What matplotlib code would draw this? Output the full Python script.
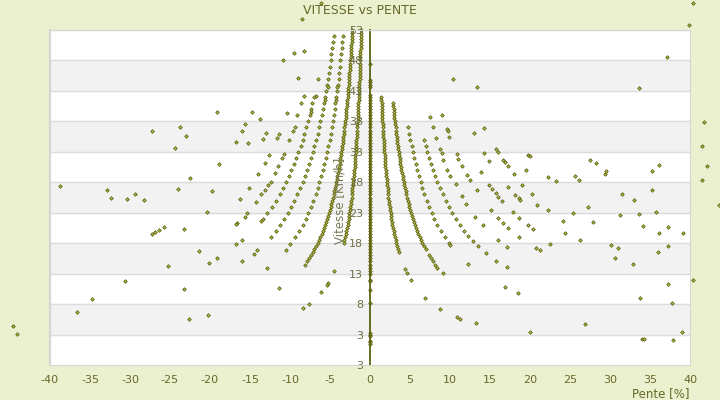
import numpy as np
import matplotlib.pyplot as plt

# (pente %, vitesse km/h)
axe_zero = [47.4, 44.8, 44.4, 44.0, 43.6, 42.3, 42.0, 41.5, 41.0, 40.5, 40.0, 39.5, 39.0, 38.5, 38.0,
            37.5, 37.0, 36.5, 36.0, 35.5, 35.0, 34.5, 34.0, 33.5, 33.0, 32.5, 32.0, 31.5, 31.0, 30.5,
            30.0, 29.5, 29.0, 28.5, 28.0, 27.5, 27.0, 26.5, 26.0, 25.5, 25.0, 24.5, 24.0, 23.5, 23.0,
            22.5, 22.0, 21.5, 21.0, 20.5, 20.0, 19.5, 19.0, 18.5, 18.0, 17.5, 17.0, 16.5, 16.0, 15.5,
            15.0, 14.5, 14.0, 13.5, 13.0, 12.0, 11.8, 10.3, 8.1, 3.3, 2.9, 2.7, 1.9, 1.7, 1.5]

gauche_k1 = [(-1.11, 53), (-1.12, 52.5), (-1.13, 52), (-1.15, 51.5), (-1.16, 51), (-1.17, 50.5), (-1.18, 50),
             (-1.19, 49.5), (-1.20, 49), (-1.22, 48.5), (-1.23, 48), (-1.24, 47.5), (-1.26, 47), (-1.27, 46.5),
             (-1.28, 46), (-1.30, 45.5), (-1.31, 45), (-1.33, 44.5), (-1.34, 44), (-1.36, 43.5), (-1.37, 43),
             (-1.39, 42.5), (-1.40, 42), (-1.42, 41.5), (-1.44, 41), (-1.46, 40.5), (-1.48, 40), (-1.49, 39.5),
             (-1.51, 39), (-1.53, 38.5), (-1.55, 38), (-1.57, 37.5), (-1.59, 37), (-1.62, 36.5), (-1.64, 36),
             (-1.66, 35.5), (-1.69, 35), (-1.71, 34.5), (-1.74, 34), (-1.76, 33.5), (-1.79, 33), (-1.82, 32.5),
             (-1.84, 32), (-1.87, 31.5), (-1.90, 31), (-1.93, 30.5), (-1.97, 30), (-2.00, 29.5), (-2.03, 29),
             (-2.07, 28.5), (-2.11, 28), (-2.15, 27.5), (-2.19, 27), (-2.23, 26.5), (-2.27, 26), (-2.31, 25.5),
             (-2.36, 25), (-2.41, 24.5), (-2.46, 24), (-2.51, 23.5), (-2.57, 23), (-2.62, 22.5), (-2.68, 22),
             (-2.74, 21.5), (-2.81, 21), (-2.88, 20.5), (-2.95, 20), (-3.03, 19.5), (-3.11, 19), (-3.19, 18.5),
             (-3.28, 18), (-4.46, 13.5), (-5.21, 11.5), (-5.34, 11.2), (-6.09, 10.0), (-7.59, 8.0), (-8.34, 7.4)]

gauche_k2 = [(-2.23, 53), (-2.25, 52.5), (-2.27, 52), (-2.29, 51.5), (-2.31, 51), (-2.34, 50.5), (-2.36, 50),
             (-2.38, 49.5), (-2.41, 49), (-2.43, 48.5), (-2.46, 48), (-2.48, 47.5), (-2.51, 47), (-2.54, 46.5),
             (-2.57, 46), (-2.59, 45.5), (-2.62, 45), (-2.65, 44.5), (-2.68, 44), (-2.71, 43.5), (-2.74, 43),
             (-2.78, 42.5), (-2.81, 42), (-2.84, 41.5), (-2.88, 41), (-2.91, 40.5), (-2.95, 40), (-2.99, 39.5),
             (-3.03, 39), (-3.06, 38.5), (-3.11, 38), (-3.15, 37.5), (-3.19, 37), (-3.23, 36.5), (-3.28, 36),
             (-3.32, 35.5), (-3.37, 35), (-3.42, 34.5), (-3.47, 34), (-3.52, 33.5), (-3.58, 33), (-3.63, 32.5),
             (-3.69, 32), (-3.75, 31.5), (-3.81, 31), (-3.87, 30.5), (-3.93, 30), (-4.00, 29.5), (-4.07, 29),
             (-4.14, 28.5), (-4.21, 28), (-4.29, 27.5), (-4.37, 27), (-4.45, 26.5), (-4.54, 26), (-4.63, 25.5),
             (-4.72, 25), (-4.82, 24.5), (-4.92, 24), (-5.02, 23.5), (-5.13, 23), (-5.24, 22.5), (-5.36, 22),
             (-5.49, 21.5), (-5.62, 21), (-5.76, 20.5), (-5.90, 20), (-6.05, 19.5), (-6.21, 19), (-6.38, 18.5),
             (-6.56, 18), (-6.74, 17.5), (-6.94, 17), (-7.15, 16.5), (-7.38, 16), (-7.61, 15.5), (-7.87, 15),
             (-8.14, 14.5), (-11.34, 10.7), (-20.21, 6.2), (-22.66, 5.57), (-44.09, 3.1)]

gauche_k3 = [(-3.40, 52), (-3.47, 51), (-3.54, 50), (-3.61, 49), (-3.69, 48), (-3.77, 47), (-3.85, 46),
             (-3.93, 45), (-4.02, 44), (-4.12, 43), (-4.21, 42), (-4.32, 41), (-4.43, 40), (-4.54, 39),
             (-4.66, 38), (-4.78, 37), (-4.92, 36), (-5.06, 35), (-5.21, 34), (-5.36, 33), (-5.53, 32),
             (-5.71, 31), (-5.90, 30), (-6.10, 29), (-6.32, 28), (-6.56, 27), (-6.81, 26), (-7.08, 25),
             (-7.38, 24), (-7.70, 23), (-8.05, 22), (-8.43, 21), (-8.85, 20), (-9.32, 19), (-10.0, 17.8),
             (-10.5, 16.9), (-12.91, 13.9), (-44.59, 4.43)]

gauche_k4 = [(-4.54, 52), (-4.63, 51), (-4.72, 50), (-4.82, 49), (-4.92, 48), (-5.02, 47), (-5.13, 46),
             (-5.24, 45), (-5.36, 44), (-5.49, 43), (-5.62, 42), (-5.76, 41), (-5.90, 40), (-6.05, 39),
             (-6.21, 38), (-6.38, 37), (-6.56, 36), (-6.74, 35), (-6.94, 34), (-7.15, 33), (-7.38, 32),
             (-7.61, 31), (-7.87, 30), (-8.14, 29), (-8.43, 28), (-8.74, 27), (-9.08, 26), (-9.44, 25),
             (-9.83, 24), (-10.26, 23), (-10.73, 22), (-11.24, 21), (-11.8, 20), (-12.42, 19), (-14.1, 16.9),
             (-14.5, 16.3), (-16.0, 15.0), (-23.21, 10.5), (-36.66, 6.7)]

gauche_k5 = [(-6.46, 44.9), (-6.79, 42.2), (-7.02, 42), (-7.20, 41), (-7.38, 40), (-7.56, 39), (-7.76, 38),
             (-7.97, 37), (-8.19, 36), (-8.43, 35), (-8.68, 34), (-8.94, 33), (-9.22, 32), (-9.52, 31),
             (-9.83, 30), (-10.17, 29), (-10.54, 28), (-10.93, 27), (-11.25, 26.1), (-11.8, 25), (-12.29, 24),
             (-12.83, 23), (-13.41, 22), (-13.6, 21.7), (-16.0, 18.6), (-16.7, 17.8), (-19.1, 15.6),
             (-20.09, 14.75), (-34.71, 8.85)]

gauche_k6 = [(-8.21, 42.1), (-8.63, 41), (-9.08, 39), (-9.34, 37.1), (-9.59, 36.5), (-10.11, 35),
             (-10.71, 32.6), (-11.06, 32), (-11.54, 30.6), (-11.84, 29.5), (-12.41, 28.1), (-12.71, 27.6),
             (-13.13, 26.8), (-13.62, 26), (-14.25, 24.7), (-15.39, 23), (-15.6, 22.3), (-16.6, 21.3),
             (-16.7, 21.1), (-21.34, 16.7), (-25.21, 14.3), (-30.59, 11.8)]

gauche_k7 = [(-8.21, 49.6), (-8.96, 45.2), (-10.34, 39.3), (-11.38, 35.9), (-11.59, 35.2), (-12.63, 32.5),
             (-13.09, 31.2), (-13.96, 29.3), (-15.13, 27.05), (-16.25, 25.3)]

gauche_k8 = [(-8.46, 54.8), (-9.46, 49.2), (-12.96, 36.1), (-13.34, 35.1), (-20.34, 23.1), (-23.21, 20.3)]

gauche_k9 = [(-10.84, 48.0), (-13.75, 38.4), (-15.21, 34.4), (-19.79, 26.6), (-25.71, 20.7), (-26.34, 20.2),
             (-26.84, 19.8), (-27.29, 19.5)]

gauche_loin = [(-6.13, 57.4), (-14.71, 39.5), (-15.59, 37.5), (-15.96, 36.4), (-16.79, 34.6), (-18.84, 31.0),
               (-19.16, 39.5), (-27.21, 36.4), (-23.71, 37.05), (-22.96, 35.6), (-24.34, 33.6), (-22.46, 28.7),
               (-38.71, 27.4), (-32.84, 26.7), (-32.34, 25.4), (-30.34, 25.25), (-29.34, 26.1), (-28.21, 25.1),
               (-23.96, 26.9), (-7.34, 39.5), (-4.16, 43.7), (-4.25, 41.5), (-5.6, 41.5), (-5.3, 43.6)]

droite_k1 = [(1.40, 42), (1.42, 41.5), (1.44, 41), (1.46, 40.5), (1.48, 40), (1.49, 39.5), (1.51, 39),
             (1.53, 38.5), (1.55, 38), (1.57, 37.5), (1.59, 37), (1.62, 36.5), (1.64, 36), (1.66, 35.5),
             (1.69, 35), (1.71, 34.5), (1.74, 34), (1.76, 33.5), (1.79, 33), (1.82, 32.5), (1.84, 32),
             (1.87, 31.5), (1.90, 31), (1.93, 30.5), (1.97, 30), (2.00, 29.5), (2.03, 29), (2.07, 28.5),
             (2.11, 28), (2.15, 27.5), (2.19, 27), (2.23, 26.5), (2.27, 26), (2.31, 25.5), (2.36, 25),
             (2.41, 24.5), (2.46, 24), (2.51, 23.5), (2.57, 23), (2.62, 22.5), (2.68, 22), (2.74, 21.5),
             (2.81, 21), (2.88, 20.5), (2.95, 20), (3.03, 19.5), (3.11, 19), (3.19, 18.5), (3.28, 18),
             (3.37, 17.5), (3.47, 17), (3.58, 16.5), (4.41, 13.8), (4.66, 13.1), (5.16, 11.9), (6.91, 9.0),
             (8.79, 7.2), (10.91, 5.9), (11.25, 5.6), (13.21, 4.9), (20.04, 3.4), (34.0, 2.3), (34.2, 2.3),
             (37.9, 2.1)]

droite_k2 = [(2.88, 41), (2.91, 40.5), (2.95, 40), (2.99, 39.5), (3.03, 39), (3.06, 38.5), (3.11, 38),
             (3.15, 37.5), (3.19, 37), (3.23, 36.5), (3.28, 36), (3.32, 35.5), (3.37, 35), (3.42, 34.5),
             (3.47, 34), (3.52, 33.5), (3.58, 33), (3.63, 32.5), (3.69, 32), (3.75, 31.5), (3.81, 31),
             (3.87, 30.5), (3.93, 30), (4.00, 29.5), (4.07, 29), (4.14, 28.5), (4.21, 28), (4.29, 27.5),
             (4.37, 27), (4.45, 26.5), (4.54, 26), (4.63, 25.5), (4.72, 25), (4.82, 24.5), (4.92, 24),
             (5.02, 23.5), (5.13, 23), (5.24, 22.5), (5.36, 22), (5.49, 21.5), (5.62, 21), (5.76, 20.5),
             (5.90, 20), (6.05, 19.5), (6.21, 19), (6.38, 18.5), (6.56, 18), (6.74, 17.5), (6.94, 17),
             (7.38, 16), (7.61, 15.5), (7.87, 15), (8.14, 14.5), (8.43, 14), (9.16, 13.1), (26.9, 4.75),
             (39.0, 3.4)]

droite_k3 = [(4.78, 37), (4.92, 36), (5.06, 35), (5.21, 34), (5.36, 33), (5.53, 32), (5.71, 31), (5.90, 30),
             (6.10, 29), (6.32, 28), (6.56, 27), (6.81, 26), (7.08, 25), (7.38, 24), (7.70, 23), (8.05, 22),
             (8.43, 21), (8.85, 20), (9.32, 19), (9.83, 18), (10.0, 17.7), (12.29, 14.6), (16.91, 10.8),
             (18.54, 9.8)]

droite_k4 = [(6.74, 35), (6.94, 34), (7.15, 33), (7.38, 32), (7.61, 31), (7.87, 30), (8.14, 29), (8.43, 28),
             (8.74, 27), (9.08, 26), (9.44, 25), (9.83, 24), (10.26, 23), (10.73, 22), (11.24, 21), (11.8, 20),
             (12.29, 19.2), (12.9, 18.3), (13.5, 17.5), (14.5, 16.4), (15.79, 15.1), (17.16, 14.1)]

droite_k5 = [(7.5, 38.7), (7.91, 37.05), (8.29, 35.25), (8.75, 33.4), (8.96, 32.8), (9.16, 31.7), (9.66, 30.0),
             (10.0, 28.95), (10.71, 27.7), (11.5, 25.7), (12.0, 24.5), (13.16, 22.3), (14.16, 21.0),
             (16.04, 18.5), (17.16, 17.4), (33.8, 9.0), (37.8, 8.2)]

droite_k6 = [(9.04, 39.0), (9.59, 36.7), (9.79, 36.5), (9.91, 35.4), (10.84, 32.7), (11.04, 31.9), (11.5, 30.6),
             (12.09, 29.2), (12.5, 28.4), (13.34, 26.8), (15.13, 23.5), (16.04, 22.1), (16.66, 21.3),
             (17.29, 20.5), (18.66, 19.0), (20.79, 17.2)]

droite_k7 = [(13.91, 29.7), (14.91, 27.5), (15.29, 26.9), (15.75, 26.2), (16.04, 25.6), (16.54, 24.9),
             (17.91, 23.05), (18.66, 22.1), (19.79, 21.0), (20.41, 20.3), (37.3, 11.3)]

droite_k8 = [(10.41, 44.9), (13.04, 36.1), (14.29, 32.8), (14.91, 31.5), (17.25, 27.2), (18.16, 25.9),
             (18.66, 25.4), (18.79, 25.1), (30.66, 15.6), (32.91, 14.6)]

droite_k9 = [(14.29, 36.9), (15.75, 33.5), (16.04, 33.0), (16.66, 31.7), (16.88, 31.3), (17.29, 30.6),
             (18.0, 29.3), (20.29, 26.1), (30.16, 17.7), (31.04, 17.2)]

droite_milieu = [(22.25, 28.9), (23.25, 28.2), (25.6, 29.1), (26.1, 28.4), (27.5, 31.7), (28.25, 31.2),
                 (29.4, 29.4), (22.25, 23.5), (24.1, 21.7), (25.4, 23.0), (27.25, 24.0), (27.9, 21.5),
                 (24.4, 19.6), (26.25, 18.6), (22.5, 17.8), (21.25, 16.9), (19.0, 27.6), (20.9, 24.3)]

droite_loin = [(13.41, 43.6), (19.5, 30.0), (19.79, 32.5), (20.04, 32.3), (37.29, 17.5), (36.04, 16.6),
               (29.54, 29.8), (35.29, 29.8), (36.16, 30.8), (31.54, 26.1), (35.29, 26.7), (33.04, 25.1),
               (31.29, 22.6), (33.66, 22.8), (35.79, 23.1), (34.16, 20.8), (37.29, 20.7), (36.16, 19.7),
               (39.16, 19.7), (33.66, 43.4), (37.16, 48.5), (39.91, 53.9), (40.41, 57.5), (41.75, 37.9),
               (41.54, 33.9), (42.16, 30.7), (41.54, 28.4), (43.66, 24.3), (40.41, 11.9)]

groupes = [gauche_k1, gauche_k2, gauche_k3, gauche_k4, gauche_k5, gauche_k6, gauche_k7, gauche_k8,
           gauche_k9, gauche_loin, droite_k1, droite_k2, droite_k3, droite_k4, droite_k5, droite_k6,
           droite_k7, droite_k8, droite_k9, droite_milieu, droite_loin]

y_ticks = [-2, 3, 8, 13, 18, 23, 28, 33, 38, 43, 48, 53]
y_labels = ['3', '3', '8', '13', '18', '23', '28', '33', '38', '43', '48', '53']
x_ticks = [-40, -35, -30, -25, -20, -15, -10, -5, 0, 5, 10, 15, 20, 25, 30, 35, 40]

olive = '#5c6210'
texte = '#66692a'

fig = plt.figure(figsize=(7.2, 4.0), dpi=100)
fig.patch.set_facecolor('#ebf0cf')
ax = fig.add_axes([50 / 720, 35 / 400, 640 / 720, 335 / 400])
ax.set_xlim(-40, 40)
ax.set_ylim(-2, 53)

# bandes alternées
for lo in [3, 13, 23, 33, 43]:
    ax.axhspan(lo, lo + 5, color='#f2f2f2', zorder=0)
for y in y_ticks[1:]:
    ax.axhline(y, color='#dcdcdc', lw=1, zorder=0.5)

for s in ['top', 'right', 'bottom']:
    ax.spines[s].set_color('#d6d6d6')
ax.axvline(-40, color='#d6d6d6', lw=1.6, clip_on=False, zorder=0.6)
ax.spines['left'].set_position(('data', 0))
ax.spines['left'].set_color(olive)
ax.spines['left'].set_linewidth(1.3)

ax.set_yticks(y_ticks)
ax.set_yticklabels(y_labels)
ax.set_xticks(x_ticks)
ax.set_xticklabels([str(v) for v in x_ticks])
ax.tick_params(axis='y', length=0, pad=5, labelsize=8, labelcolor='#6e6e45')
ax.tick_params(axis='x', length=0, pad=7, labelsize=8, labelcolor=texte)

style = dict(marker='D', s=3.2, edgecolors=olive, facecolors='#b8c04a', linewidths=0.6,
             clip_on=False, zorder=1)
ax.scatter(np.zeros(len(axe_zero)), axe_zero, **style)
for g in groupes:
    pts = np.array(g)
    ax.scatter(pts[:, 0], pts[:, 1], **style)

fig.text(0.5, 1 - 10 / 400, 'VITESSE vs PENTE', ha='center', va='center', fontsize=9, color=texte)
fig.text(690 / 720, 1 - 394 / 400, 'Pente [%]', ha='right', va='center', fontsize=8.5, color=texte)
ax.text(-3.8, 25, 'Vitesse [Km/h]', rotation=90, ha='center', va='center', fontsize=8.5,
        color='#7a7a55', zorder=3)

fig.savefig('out.png', dpi=100, facecolor=fig.get_facecolor())
